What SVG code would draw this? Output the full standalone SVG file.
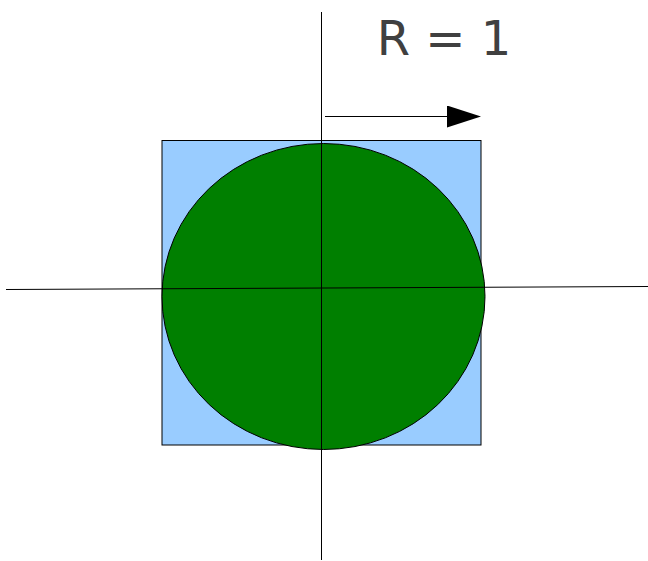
<svg xmlns="http://www.w3.org/2000/svg" width="648" height="561" viewBox="0 0 648 561">
<style>
.ln{stroke:#000;stroke-width:1;fill:none}
</style>
<defs>
<marker id="ah" markerWidth="34" markerHeight="22" refX="0" refY="11" orient="auto" markerUnits="userSpaceOnUse">
<path d="M0,0 L34,11 L0,22 Z" fill="#000"/>
</marker>
</defs>
<rect width="648" height="561" fill="#fff"/>
<g id="square"><rect x="162" y="140.5" width="319" height="304.5" fill="#99ccff" stroke="#000" stroke-width="1"/></g>
<g id="circle"><ellipse cx="323.5" cy="296.5" rx="161.5" ry="153" fill="#007f00" stroke="#000" stroke-width="1"/></g>
<g id="connectors">
<line class="ln" x1="321.5" y1="12" x2="321.5" y2="560"/>
<line class="ln" x1="6" y1="289.5" x2="648" y2="286.5"/>
<line class="ln" x1="325" y1="116.5" x2="447" y2="116.5" marker-end="url(#ah)"/>
</g>
<g id="label"><text x="444" y="55" text-anchor="middle" font-family="DejaVu Sans, sans-serif" font-size="48" fill="#404040">R = 1</text></g>
</svg>
